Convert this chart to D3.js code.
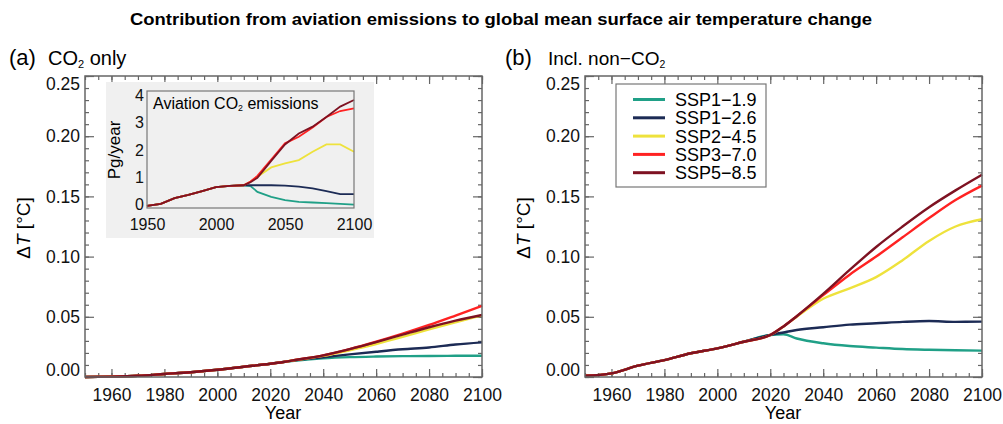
<!DOCTYPE html>
<html>
<head>
<meta charset="utf-8">
<script src="https://cdn.jsdelivr.net/npm/d3@7"></script>
<style>
  body { margin: 0; background: #fff; }
  svg { font-family: "Liberation Sans", Arial, Helvetica, sans-serif; }
</style>
</head>
<body>
<svg id="chart" width="1003" height="424"></svg>
<script>
/*
Scenario names and line colours */
var scenarios = ["SSP1\u22121.9", "SSP1\u22122.6", "SSP2\u22124.5", "SSP3\u22127.0", "SSP5\u22128.5"];
var colors = ["#20a087", "#1c2b55", "#eee23c", "#ff2222", "#7e1222"];

/*
Years shared by all scenarios, then years after the split */
var histYears = [1950, 1960, 1970, 1980, 1990, 2000, 2010, 2020];
var scenYears = [2025, 2030, 2040, 2050, 2060, 2070, 2080, 2090, 2100];

/*
(a) temperature change from aviation CO2 only [degC] */
var co2Hist = [0.0, 0.0003, 0.001, 0.0025, 0.004, 0.006, 0.0085, 0.011];
var co2_ssp119 = [0.0125, 0.0137, 0.0155, 0.0165, 0.017, 0.0173, 0.0175, 0.0176, 0.0177];
var co2_ssp126 = [0.0125, 0.014, 0.0163, 0.0188, 0.021, 0.023, 0.0245, 0.027, 0.0288];
var co2_ssp245 = [0.0125, 0.0143, 0.0175, 0.0222, 0.0274, 0.0333, 0.0396, 0.0455, 0.0512];
var co2_ssp370 = [0.0125, 0.0143, 0.018, 0.0232, 0.0293, 0.036, 0.0432, 0.051, 0.059];
var co2_ssp585 = [0.0125, 0.0143, 0.018, 0.0232, 0.029, 0.0352, 0.0413, 0.0468, 0.0515];

/*
(b) temperature change including non-CO2 effects [degC] */
var allHist = [0.001, 0.003, 0.0094, 0.014, 0.0197, 0.0238, 0.0293, 0.0349];
var all_ssp119 = [0.0355, 0.032, 0.028, 0.0257, 0.0244, 0.0232, 0.0226, 0.0222, 0.0219];
var all_ssp126 = [0.037, 0.039, 0.0413, 0.0435, 0.0446, 0.0458, 0.0465, 0.0458, 0.046];
var all_ssp245 = [0.042, 0.050, 0.065, 0.0737, 0.083, 0.097, 0.113, 0.125, 0.131];
var all_ssp370 = [0.042, 0.0505, 0.068, 0.085, 0.100, 0.116, 0.132, 0.147, 0.159];
var all_ssp585 = [0.042, 0.0505, 0.069, 0.0889, 0.108, 0.125, 0.141, 0.155, 0.168];

/*
Inset: aviation CO2 emissions [Pg/year] */
var emisHist = [-0.04, 0.03, 0.24, 0.36, 0.50, 0.64, 0.69, 0.71];
var emis_ssp119 = [0.68, 0.47, 0.29, 0.17, 0.10, 0.08, 0.06, 0.03, 0.0];
var emis_ssp126 = [0.71, 0.71, 0.71, 0.70, 0.66, 0.60, 0.50, 0.39, 0.39];
var emis_ssp245 = [0.84, 1.02, 1.36, 1.51, 1.63, 1.93, 2.2, 2.2, 1.93];
var emis_ssp370 = [0.85, 1.05, 1.65, 2.24, 2.48, 2.82, 3.2, 3.42, 3.52];
var emis_ssp585 = [0.82, 0.98, 1.6, 2.2, 2.6, 2.85, 3.2, 3.58, 3.82];

/*
Tick values */
var xMajor = [1960, 1980, 2000, 2020, 2040, 2060, 2080, 2100];
var xMinor = d3.range(1950, 2101, 5);
var yMajor = [0, 0.05, 0.10, 0.15, 0.20, 0.25];
var yMinor = d3.range(0, 0.2501, 0.01);
var insetX = [1950, 2000, 2050, 2100];
var insetY = [0, 1, 2, 3, 4];

var svg = d3.select("#chart");
var frameColor = "#666";

/*
Joins the shared history with one scenario into a list of points */
function make_series(hist, scen) {
  var pts = [];
  histYears.forEach(function(y, i) { pts.push([y, hist[i]]); });
  scenYears.forEach(function(y, i) { pts.push([y, scen[i]]); });
  return pts;
}

/*
Draws a line of text with a subscript 2 at the given spot */
function add_co2_text(g, x, y, size, before, after) {
  var t = g.append("text").attr("x", x).attr("y", y).attr("font-size", size);
  t.append("tspan").text(before + "CO");
  t.append("tspan").attr("font-size", size * 0.55).attr("dy", size * 0.15).text("2");
  t.append("tspan").attr("dy", -size * 0.15).text(after);
  return t;
}

/*
One main panel with IDL style ticks on all four sides */
function draw_panel(x0, hist, series) {
  var x = d3.scaleLinear().domain([1950, 2100]).range([x0, x0 + 397]);
  var y = d3.scaleLinear().domain([0, 0.25]).range([377, 76]);
  var g = svg.append("g");

  // minor ticks, all sides
  g.append("g").attr("transform", "translate(0,377)")
    .call(d3.axisBottom(x).tickValues(xMinor).tickSize(-4).tickFormat(""));
  g.append("g").attr("transform", "translate(0,76)")
    .call(d3.axisTop(x).tickValues(xMinor).tickSize(-4).tickFormat(""));
  g.append("g").attr("transform", "translate(" + x0 + ",0)")
    .call(d3.axisLeft(y).tickValues(yMinor).tickSize(-4).tickFormat(""));
  g.append("g").attr("transform", "translate(" + (x0 + 397) + ",0)")
    .call(d3.axisRight(y).tickValues(yMinor).tickSize(-4).tickFormat(""));

  // major ticks with labels
  g.append("g").attr("class", "xax").attr("transform", "translate(0,377)")
    .call(d3.axisBottom(x).tickValues(xMajor).tickSizeInner(-8).tickSizeOuter(0)
      .tickPadding(12).tickFormat(d3.format("d")));
  g.append("g").attr("transform", "translate(0,76)")
    .call(d3.axisTop(x).tickValues(xMajor).tickSize(-8).tickFormat(""));
  g.append("g").attr("class", "yax").attr("transform", "translate(" + x0 + ",0)")
    .call(d3.axisLeft(y).tickValues(yMajor).tickSizeInner(-9).tickSizeOuter(0)
      .tickPadding(5).tickFormat(d3.format(".2f")));
  g.append("g").attr("transform", "translate(" + (x0 + 397) + ",0)")
    .call(d3.axisRight(y).tickValues(yMajor).tickSize(-9).tickFormat(""));

  g.selectAll(".domain").remove();
  g.selectAll(".tick line").attr("stroke", frameColor).attr("stroke-width", 1.2);
  g.selectAll(".tick text").attr("font-size", 17.5).attr("fill", "#111")
    .attr("font-family", "Liberation Sans, Arial, sans-serif");
  // IDL keeps the end labels inside the frame
  g.select(".yax").selectAll(".tick text").attr("dy", function(d) {
    if (d === 0) return "-0.1em";
    if (d === 0.25) return "0.78em";
    return "0.32em";
  });

  var line = d3.line().x(function(d) { return x(d[0]); }).y(function(d) { return y(d[1]); })
    .curve(d3.curveMonotoneX);
  series.forEach(function(s, i) {
    g.append("path").datum(make_series(hist, s))
      .attr("fill", "none").attr("stroke", colors[i]).attr("stroke-width", 2.4)
      .attr("d", line);
  });

  g.append("rect").attr("x", x0).attr("y", 76).attr("width", 397).attr("height", 301)
    .attr("fill", "none").attr("stroke", frameColor).attr("stroke-width", 1.5);

  g.append("text").attr("x", x0 + 198).attr("y", 419).attr("text-anchor", "middle")
    .attr("font-size", 18).text("Year");

  var yl = g.append("text").attr("transform", "translate(" + (x0 - 55) + ",228) rotate(-90)")
    .attr("text-anchor", "middle").attr("font-size", 19);
  yl.append("tspan").text("\u0394");
  yl.append("tspan").attr("font-style", "italic").text("T");
  yl.append("tspan").text("  [\u00b0C]");
  return g;
}

/*
Small emissions chart in the top left of panel (a) */
function draw_inset() {
  var x = d3.scaleLinear().domain([1950, 2100]).range([147, 354]);
  var y = d3.scaleLinear().domain([-0.12, 4.15]).range([208, 91]);
  var g = svg.append("g");

  g.append("rect").attr("x", 106).attr("y", 82).attr("width", 268).attr("height", 156)
    .attr("fill", "#f0f0f0");
  g.append("g").attr("transform", "translate(0,208)")
    .call(d3.axisBottom(x).tickValues(insetX).tickSize(0).tickPadding(11).tickFormat(d3.format("d")));
  g.append("g").attr("transform", "translate(147,0)")
    .call(d3.axisLeft(y).tickValues(insetY).tickSize(0).tickPadding(3).tickFormat(d3.format("d")));
  g.selectAll(".domain").remove();
  g.selectAll(".tick text").attr("font-size", 16).attr("fill", "#111")
    .attr("font-family", "Liberation Sans, Arial, sans-serif");

  var line = d3.line().x(function(d) { return x(d[0]); }).y(function(d) { return y(d[1]); });
  var emis = [emis_ssp119, emis_ssp126, emis_ssp245, emis_ssp370, emis_ssp585];
  emis.forEach(function(s, i) {
    g.append("path").datum(make_series(emisHist, s))
      .attr("fill", "none").attr("stroke", colors[i]).attr("stroke-width", 1.8)
      .attr("d", line);
  });
  g.append("rect").attr("x", 147).attr("y", 91).attr("width", 207).attr("height", 117)
    .attr("fill", "none").attr("stroke", "#777").attr("stroke-width", 1.2);

  add_co2_text(g, 153, 109, 16, "Aviation ", " emissions");
  g.append("text").attr("transform", "translate(120,150) rotate(-90)")
    .attr("text-anchor", "middle").attr("font-size", 17).text("Pg/year");
}

/*
Scenario legend in panel (b) */
function draw_legend() {
  var g = svg.append("g");
  g.append("rect").attr("x", 616).attr("y", 84).attr("width", 150).attr("height", 103)
    .attr("fill", "#fff").attr("stroke", "#777").attr("stroke-width", 1.2);
  var rows = g.selectAll(".entry").data(scenarios).enter().append("g")
    .attr("transform", function(d, i) { return "translate(0," + (99.5 + i * 18.3) + ")"; });
  rows.append("line").attr("x1", 633).attr("x2", 665)
    .attr("stroke", function(d, i) { return colors[i]; }).attr("stroke-width", 3);
  rows.append("text").attr("x", 675).attr("dy", "0.36em").attr("font-size", 18)
    .text(function(d) { return d; });
}

// title and panel headings
svg.append("text").attr("x", 501).attr("y", 25).attr("text-anchor", "middle")
  .attr("font-size", 17).attr("font-weight", "bold")
  .attr("textLength", 742).attr("lengthAdjust", "spacingAndGlyphs")
  .text("Contribution from aviation emissions to global mean surface air temperature change");
svg.append("text").attr("x", 9).attr("y", 65).attr("font-size", 22).text("(a)");
add_co2_text(svg, 48, 65, 20, "", " only");
svg.append("text").attr("x", 505).attr("y", 65).attr("font-size", 22).text("(b)");
add_co2_text(svg, 548, 65, 19, "Incl. non\u2212", "");

draw_panel(85, co2Hist, [co2_ssp119, co2_ssp126, co2_ssp245, co2_ssp370, co2_ssp585]);
draw_panel(585, allHist, [all_ssp119, all_ssp126, all_ssp245, all_ssp370, all_ssp585]);
draw_inset();
draw_legend();
</script>
</body>
</html>
